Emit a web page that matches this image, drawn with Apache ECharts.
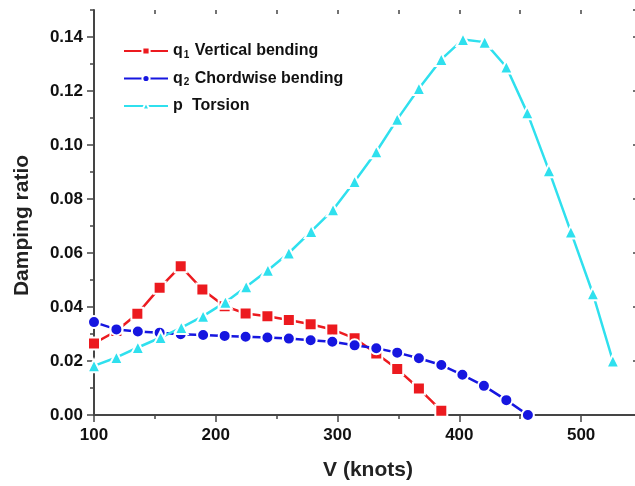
<!DOCTYPE html>
<html>
<head>
<meta charset="utf-8">
<script src="https://cdn.jsdelivr.net/npm/echarts@6/dist/echarts.min.js"></script>
<style>html,body{margin:0;padding:0;background:#fff;overflow:hidden}#c{width:645px;height:486px}</style>
</head>
<body>
<div id="c"></div>
<script>
// Vertical bending (q1)
var vQ1 = [100, 118.4, 135.6, 153.9, 171.2, 189, 207.3, 224.5, 242.4, 260, 277.9, 295.7, 314, 331.8, 349, 366.8, 385.2];
var dampQ1 = [0.0265, 0.0311, 0.0375, 0.0471, 0.0551, 0.0465, 0.0403, 0.0376, 0.0366, 0.0352, 0.0336, 0.0317, 0.0284, 0.0228, 0.0170, 0.0098, 0.0016];
// Chordwise bending (q2)
var vQ2 = [100, 118.4, 136, 153.9, 171.2, 189.6, 207.3, 224.5, 242.4, 260, 277.9, 295.7, 314, 331.8, 349, 366.8, 385.2, 402.5, 420.2, 438.6, 456.3];
var dampQ2 = [0.0344, 0.0317, 0.0309, 0.0305, 0.0299, 0.0296, 0.0293, 0.0290, 0.0287, 0.0283, 0.0277, 0.0271, 0.0258, 0.0247, 0.0231, 0.0210, 0.0185, 0.0149, 0.0108, 0.0055, 0.0];
// Torsion (p)
var vP = [100, 118.4, 136, 154.7, 171.7, 189.6, 207.9, 225, 242.8, 260, 278.3, 296.3, 314, 331.8, 349, 366.8, 385.2, 403, 420.8, 438.6, 455.8, 473.6, 491.6, 509.7, 526.1];
var dampP = [0.0182, 0.0213, 0.0250, 0.0287, 0.0324, 0.0366, 0.0418, 0.0475, 0.0536, 0.0600, 0.0680, 0.0760, 0.0865, 0.0975, 0.1095, 0.1209, 0.1317, 0.1391, 0.1381, 0.1289, 0.1119, 0.0905, 0.0678, 0.0449, 0.0200];

var seriesNames = ['q1 Vertical bending', 'q2 Chordwise bending', 'p Torsion'];
var xTitle = 'V (knots)';
var yTitle = 'Damping ratio';

function pairs(xs, ys) { return xs.map(function (x, i) { return [x, ys[i]]; }); }

var FONT = '"Liberation Sans", Arial, sans-serif';
var AX = '#454545';
var chart = echarts.init(document.getElementById('c'), null, {renderer: 'canvas'});

function xAx(pos, interval, tickLen, inside, showLine, showLabel, extra) {
  var o = {
    type: 'value', position: pos, min: 100, max: 550, interval: interval,
    axisLine: {show: showLine, lineStyle: {color: AX, width: 2}},
    axisTick: {show: true, inside: inside, length: tickLen, lineStyle: {color: AX, width: 1.5}},
    axisLabel: {show: showLabel},
    splitLine: {show: false}
  };
  return Object.assign(o, extra || {});
}
function yAx(pos, interval, tickLen, inside, showLine, showLabel, extra) {
  var o = {
    type: 'value', position: pos, min: 0, max: 0.15, interval: interval,
    axisLine: {show: showLine, lineStyle: {color: AX, width: 2}},
    axisTick: {show: true, inside: inside, length: tickLen, lineStyle: {color: AX, width: 1.5}},
    axisLabel: {show: showLabel},
    splitLine: {show: false}
  };
  return Object.assign(o, extra || {});
}

var richStyles = {
  b: {fontFamily: FONT, fontWeight: 'bold', fontSize: 16, color: '#111', lineHeight: 18},
  s: {fontFamily: FONT, fontWeight: 'bold', fontSize: 10, color: '#111', lineHeight: 10, verticalAlign: 'bottom', padding: [0, 1, 0, 1]}
};

function mkSeries(name, data, color, symbol, size) {
  return {
    name: name, type: 'line', data: data, xAxisIndex: 0, yAxisIndex: 0,
    symbol: symbol, symbolSize: size, showAllSymbol: true,
    lineStyle: {color: color, width: 2.5},
    itemStyle: {color: color, borderColor: '#fff', borderWidth: 2},
    emphasis: {disabled: true}
  };
}

chart.setOption({
  animation: false,
  backgroundColor: '#fff',
  grid: {left: 94, right: 3, top: 10, bottom: 70, containLabel: false},
  legend: {
    left: 123, top: 43, padding: 0, orient: 'vertical', itemWidth: 44, itemHeight: 9, itemGap: 10.5,
    data: seriesNames,
    formatter: function (n) {
      if (n.indexOf('q1') === 0) return '{b|q}{s|1}{b| Vertical bending}';
      if (n.indexOf('q2') === 0) return '{b|q}{s|2}{b| Chordwise bending}';
      return '{b|p}{s| }{b| Torsion}';
    },
    textStyle: {rich: richStyles, fontFamily: FONT, fontWeight: 'bold', fontSize: 16, color: '#111'}
  },
  xAxis: [
    xAx('bottom', 100, 7, false, true, true, {
      name: xTitle, nameLocation: 'middle', nameGap: 45,
      nameTextStyle: {fontFamily: FONT, fontWeight: 'bold', fontSize: 21, color: '#222'},
      axisLabel: {show: true, showMaxLabel: false, margin: 12, fontFamily: FONT, fontWeight: 'bold', fontSize: 17, color: '#111'}
    }),
    xAx('bottom', 50, 4, false, false, false),
    xAx('top', 100, 7, true, true, false),
    xAx('top', 50, 4, true, false, false)
  ],
  yAxis: [
    yAx('left', 0.02, 7, false, true, true, {
      name: yTitle, nameLocation: 'middle', nameGap: 61,
      nameTextStyle: {fontFamily: FONT, fontWeight: 'bold', fontSize: 21, color: '#222', padding: [0, 26, 0, 0]},
      axisLabel: {show: true, showMaxLabel: false, margin: 11, fontFamily: FONT, fontWeight: 'bold', fontSize: 17, color: '#111',
        formatter: function (v) { return v.toFixed(2); }}
    }),
    yAx('left', 0.01, 4, false, false, false),
    yAx('right', 0.02, 5, true, true, false, {offset: -4})
  ],
  series: [
    mkSeries(seriesNames[0], pairs(vQ1, dampQ1), '#ec1a1f', 'rect', 12),
    mkSeries(seriesNames[1], pairs(vQ2, dampQ2), '#1616e0', 'circle', 12),
    mkSeries(seriesNames[2], pairs(vP, dampP), '#2fe0ee', 'triangle', 13)
  ]
});
</script>
</body>
</html>
